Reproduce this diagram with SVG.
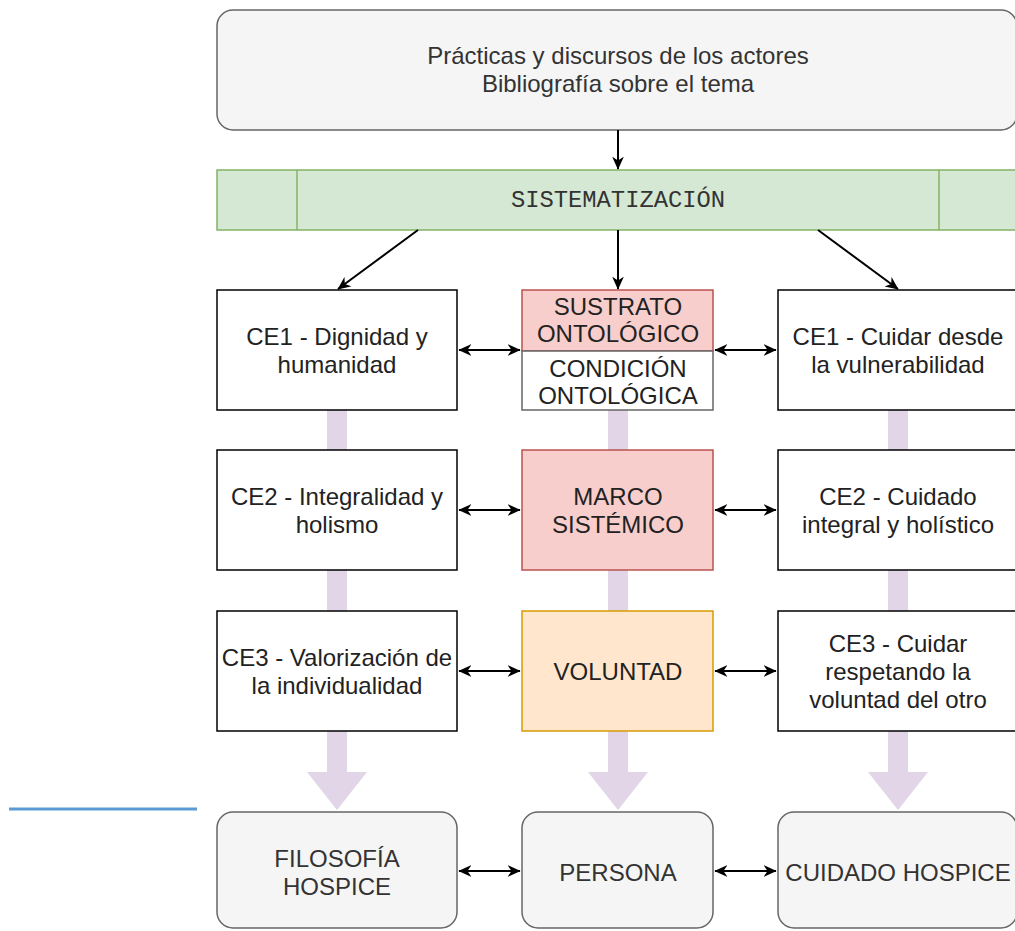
<svg xmlns="http://www.w3.org/2000/svg" width="1015" height="931" viewBox="0 0 1015 931">
<defs>
<style>
.t{font-family:"Liberation Sans",Arial,sans-serif;font-size:24px;fill:#222;text-anchor:middle}
.g{fill:#f5f5f5;stroke:#666;stroke-width:1.5}
.w{fill:#fff;stroke:#000;stroke-width:1.5}
.c{stroke:#000;stroke-width:2;fill:none}
.p{fill:#e1d5e7}
</style>
<marker id="ah" viewBox="0 0 10 10" refX="9.5" refY="5" markerWidth="13" markerHeight="13" orient="auto-start-reverse" markerUnits="userSpaceOnUse">
<path d="M0,0.5 L10,5 L0,9.5 L3,5 Z" fill="#000"/>
</marker>
</defs>
<rect width="1015" height="931" fill="#fff"/>
<line x1="9" y1="809" x2="197" y2="809" stroke="#5b9bd5" stroke-width="3"/>
<g id="flows">
<rect class="p" x="327" y="410" width="20" height="362"/>
<polygon class="p" points="307,772 367,772 337,810"/>
<rect class="p" x="608" y="410" width="20" height="362"/>
<polygon class="p" points="588,772 648,772 618,810"/>
<rect class="p" x="888" y="410" width="20" height="362"/>
<polygon class="p" points="868,772 928,772 898,810"/>
</g>
<g id="top"><rect class="g" x="217" y="10" width="800" height="120" rx="16"/>
<text class="t" x="618" y="64" style="fill:#333">Prácticas y discursos de los actores</text>
<text class="t" x="618" y="92" style="fill:#333">Bibliografía sobre el tema</text></g>
<g id="sist"><rect x="217" y="170" width="802" height="60" fill="#d5e8d4" stroke="#82b366" stroke-width="1.5"/>
<line x1="297" y1="170" x2="297" y2="230" stroke="#82b366" stroke-width="1.5"/>
<line x1="939" y1="170" x2="939" y2="230" stroke="#82b366" stroke-width="1.5"/>
<text x="618" y="207" font-family="'Liberation Mono','Courier New',monospace" font-size="23.8" fill="#333" text-anchor="middle">SISTEMATIZACIÓN</text></g>
<g id="ce1l"><rect class="w" x="217" y="290" width="240" height="120"/>
<text class="t" x="337" y="345">CE1 - Dignidad y</text><text class="t" x="337" y="373">humanidad</text></g>
<g id="sustrato"><rect x="522" y="290" width="191" height="61" fill="#f8cecc" stroke="#b85450" stroke-width="1.5"/>
<text class="t" x="618" y="315">SUSTRATO</text><text class="t" x="618" y="342">ONTOLÓGICO</text></g>
<g id="condicion"><rect x="522" y="351" width="191" height="59" fill="#fff" stroke="#666" stroke-width="1.5"/>
<text class="t" x="618" y="377">CONDICIÓN</text><text class="t" x="618" y="404">ONTOLÓGICA</text></g>
<g id="ce1r"><rect class="w" x="778" y="290" width="239" height="120"/>
<text class="t" x="898" y="345">CE1 - Cuidar desde</text><text class="t" x="898" y="373">la vulnerabilidad</text></g>
<g id="ce2l"><rect class="w" x="217" y="450" width="240" height="120"/>
<text class="t" x="337" y="505">CE2 - Integralidad y</text><text class="t" x="337" y="533">holismo</text></g>
<g id="marco"><rect x="522" y="450" width="191" height="120" fill="#f8cecc" stroke="#b85450" stroke-width="1.5"/>
<text class="t" x="618" y="505">MARCO</text><text class="t" x="618" y="533">SISTÉMICO</text></g>
<g id="ce2r"><rect class="w" x="778" y="450" width="239" height="120"/>
<text class="t" x="898" y="505">CE2 - Cuidado</text><text class="t" x="898" y="533">integral y holístico</text></g>
<g id="ce3l"><rect class="w" x="217" y="611" width="240" height="120"/>
<text class="t" x="337" y="666">CE3 - Valorización de</text><text class="t" x="337" y="694">la individualidad</text></g>
<g id="voluntad"><rect x="522" y="611" width="191" height="120" fill="#ffe6cc" stroke="#d79b00" stroke-width="1.5"/>
<text class="t" x="618" y="680">VOLUNTAD</text></g>
<g id="ce3r"><rect class="w" x="778" y="611" width="239" height="120"/>
<text class="t" x="898" y="652">CE3 - Cuidar</text><text class="t" x="898" y="680">respetando la</text><text class="t" x="898" y="708">voluntad del otro</text></g>
<g id="filosofia"><rect class="g" x="217" y="812" width="240" height="116" rx="16"/>
<text class="t" x="337" y="867" style="fill:#333">FILOSOFÍA</text><text class="t" x="337" y="895" style="fill:#333">HOSPICE</text></g>
<g id="persona"><rect class="g" x="522" y="812" width="191" height="116" rx="16"/>
<text class="t" x="618" y="881" style="fill:#333">PERSONA</text></g>
<g id="cuidado"><rect class="g" x="778" y="812" width="239" height="116" rx="16"/>
<text class="t" x="898" y="881" style="fill:#333">CUIDADO HOSPICE</text></g>
<g id="connectors">
<line class="c" x1="618" y1="130" x2="618" y2="169" marker-end="url(#ah)"/>
<line class="c" x1="618" y1="230" x2="618" y2="289" marker-end="url(#ah)"/>
<line class="c" x1="418" y1="230" x2="338" y2="289" marker-end="url(#ah)"/>
<line class="c" x1="818" y1="230" x2="898" y2="289" marker-end="url(#ah)"/>
<line class="c" x1="459" y1="350" x2="520" y2="350" marker-start="url(#ah)" marker-end="url(#ah)"/>
<line class="c" x1="715" y1="350" x2="776" y2="350" marker-start="url(#ah)" marker-end="url(#ah)"/>
<line class="c" x1="459" y1="510" x2="520" y2="510" marker-start="url(#ah)" marker-end="url(#ah)"/>
<line class="c" x1="715" y1="510" x2="776" y2="510" marker-start="url(#ah)" marker-end="url(#ah)"/>
<line class="c" x1="459" y1="671" x2="520" y2="671" marker-start="url(#ah)" marker-end="url(#ah)"/>
<line class="c" x1="715" y1="671" x2="776" y2="671" marker-start="url(#ah)" marker-end="url(#ah)"/>
<line class="c" x1="459" y1="871" x2="520" y2="871" marker-start="url(#ah)" marker-end="url(#ah)"/>
<line class="c" x1="715" y1="871" x2="776" y2="871" marker-start="url(#ah)" marker-end="url(#ah)"/>
</g>
</svg>
